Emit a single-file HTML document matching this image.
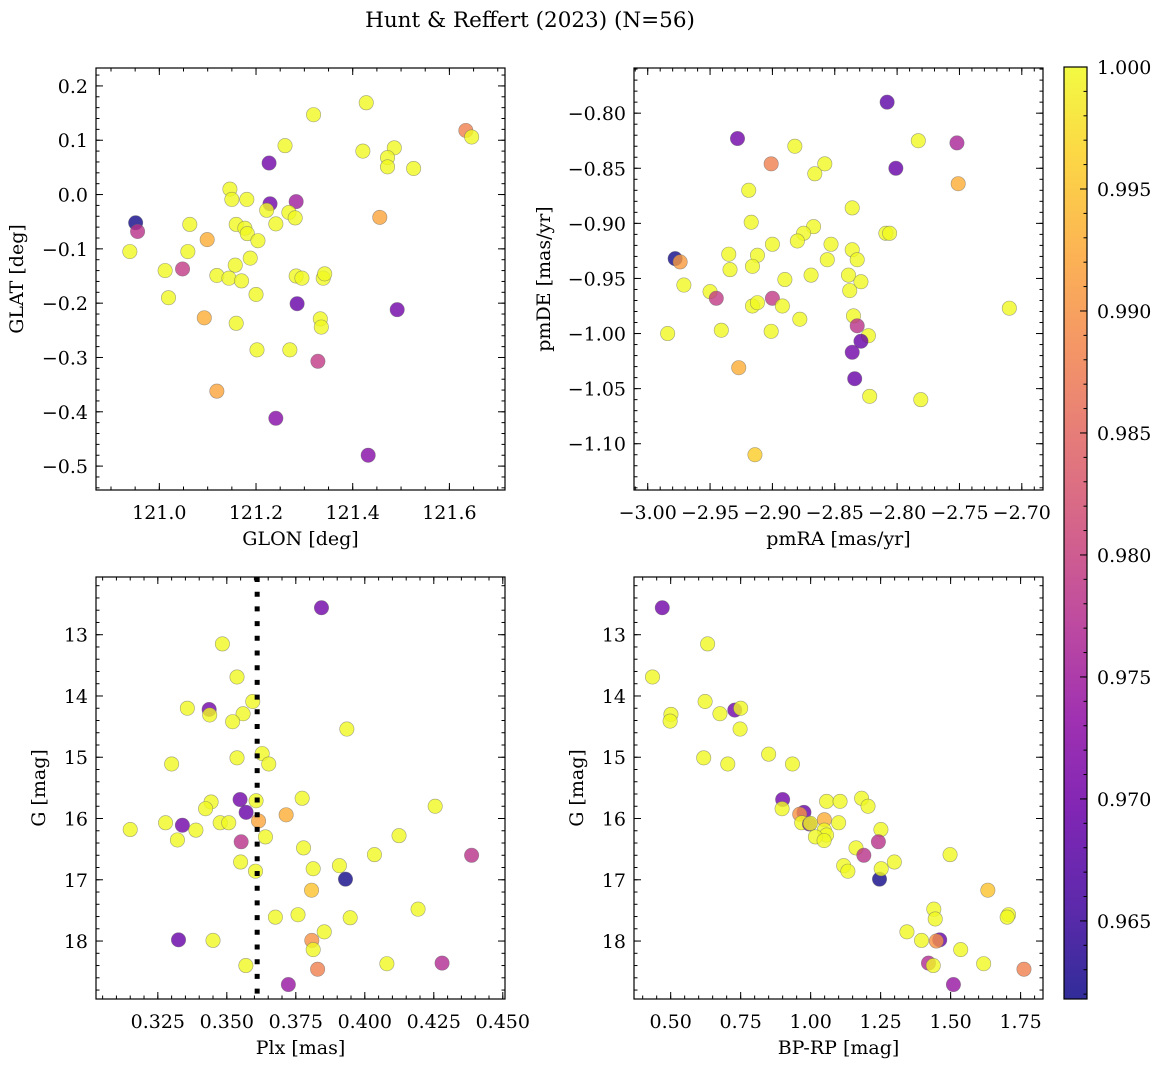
<!DOCTYPE html>
<html><head><meta charset="utf-8">
<style>
html,body{margin:0;padding:0;background:#fff;}
svg text{font-family:"DejaVu Serif","Liberation Serif",serif;fill:#000;}
</style></head>
<body>
<svg id="fig" width="1161" height="1067" viewBox="0 0 1161 1067" xmlns="http://www.w3.org/2000/svg">
<defs>
<linearGradient id="cbgrad" x1="0" y1="1" x2="0" y2="0">
<stop offset="0" stop-color="#0d0887"/><stop offset="0.1" stop-color="#41049d"/><stop offset="0.2" stop-color="#6a00a8"/><stop offset="0.3" stop-color="#8f0da4"/><stop offset="0.4" stop-color="#b12a90"/><stop offset="0.5" stop-color="#cc4778"/><stop offset="0.6" stop-color="#e16462"/><stop offset="0.7" stop-color="#f2844b"/><stop offset="0.8" stop-color="#fca636"/><stop offset="0.9" stop-color="#fcce25"/><stop offset="1" stop-color="#f0f921"/>
</linearGradient>
</defs>
<text x="530" y="27" font-size="21.5" text-anchor="middle">Hunt &amp; Reffert (2023) (N=56)</text>
</svg>
<script>
// ---- Data ----
const glon=[121.428,121.319,121.634,121.646,121.260,121.227,121.421,121.486,121.472,121.472,121.526,121.146,121.150,121.181,121.229,121.283,121.222,121.268,121.281,121.456,120.951,120.955,121.063,121.159,121.177,121.182,121.241,121.204,121.099,120.939,121.059,121.188,121.157,121.012,121.048,121.119,121.144,121.170,121.283,121.295,121.339,121.342,121.200,121.019,121.285,121.492,121.093,121.159,121.333,121.335,121.202,121.270,121.328,121.119,121.241,121.432];
const glat=[0.169,0.147,0.118,0.106,0.090,0.058,0.080,0.086,0.068,0.051,0.048,0.010,-0.009,-0.009,-0.017,-0.013,-0.029,-0.033,-0.043,-0.042,-0.052,-0.068,-0.055,-0.055,-0.062,-0.072,-0.054,-0.085,-0.083,-0.105,-0.105,-0.117,-0.130,-0.140,-0.137,-0.149,-0.154,-0.159,-0.150,-0.154,-0.154,-0.146,-0.184,-0.190,-0.201,-0.212,-0.227,-0.237,-0.229,-0.244,-0.286,-0.286,-0.307,-0.362,-0.412,-0.480];
const probA=[1,1,0.988,1,1,0.970,1,1,1,1,1,1,1,1,0.970,0.975,1,1,1,0.992,0.962,0.978,1,1,1,1,1,1,0.993,1,1,1,1,1,0.979,1,1,1,1,1,1,1,1,1,0.969,0.970,0.993,1,1,1,1,1,0.979,0.992,0.972,0.972];

const pmra=[-2.808,-2.928,-2.882,-2.783,-2.752,-2.901,-2.858,-2.866,-2.801,-2.751,-2.919,-2.836,-2.917,-2.867,-2.875,-2.880,-2.900,-2.853,-2.809,-2.806,-2.935,-2.912,-2.836,-2.978,-2.974,-2.856,-2.832,-2.934,-2.916,-2.869,-2.839,-2.890,-2.829,-2.971,-2.950,-2.838,-2.945,-2.900,-2.916,-2.912,-2.892,-2.710,-2.878,-2.835,-2.832,-2.984,-2.941,-2.901,-2.823,-2.829,-2.836,-2.927,-2.834,-2.822,-2.781,-2.914];
const pmde=[-0.790,-0.823,-0.830,-0.825,-0.827,-0.846,-0.846,-0.855,-0.850,-0.864,-0.870,-0.886,-0.899,-0.903,-0.909,-0.916,-0.919,-0.919,-0.909,-0.909,-0.928,-0.929,-0.924,-0.932,-0.935,-0.933,-0.933,-0.942,-0.939,-0.947,-0.947,-0.951,-0.953,-0.956,-0.962,-0.961,-0.968,-0.968,-0.975,-0.972,-0.975,-0.977,-0.987,-0.984,-0.993,-1.000,-0.997,-0.998,-1.002,-1.007,-1.017,-1.031,-1.041,-1.057,-1.060,-1.110];
const probB=[0.968,0.970,1,1,0.976,0.988,1,1,0.969,0.993,1,1,1,1,1,1,1,1,1,1,1,1,1,0.962,0.991,1,1,1,1,1,1,1,1,1,1,1,0.979,0.979,1,1,1,1,1,1,0.978,1,1,1,1,0.969,0.970,0.993,0.969,1,1,0.996];

const plx=[0.3843,0.3484,0.3537,0.3594,0.3357,0.3436,0.3438,0.3559,0.3521,0.3935,0.3537,0.3628,0.3652,0.3300,0.3773,0.3443,0.3423,0.3548,0.3606,0.3570,0.3715,0.4255,0.3615,0.3278,0.3476,0.3507,0.3339,0.3150,0.3388,0.3640,0.4124,0.3321,0.3552,0.3778,0.4035,0.4387,0.3550,0.3908,0.3813,0.3604,0.3930,0.3807,0.4193,0.3676,0.3758,0.3947,0.3853,0.3325,0.3450,0.3808,0.3813,0.3569,0.3829,0.4080,0.4280,0.3723];
const gmagC=[12.56,13.15,13.69,14.09,14.20,14.22,14.31,14.29,14.42,14.54,15.01,14.94,15.11,15.11,15.67,15.73,15.84,15.69,15.71,15.90,15.94,15.80,16.04,16.07,16.07,16.07,16.11,16.18,16.19,16.30,16.28,16.35,16.38,16.48,16.59,16.60,16.71,16.77,16.82,16.86,16.99,17.17,17.48,17.61,17.57,17.62,17.85,17.98,17.99,17.99,18.14,18.40,18.46,18.37,18.36,18.71];
const probC=[0.970,1,1,1,1,0.970,1,1,1,1,1,1,1,1,1,1,1,0.970,1,0.969,0.993,1,0.992,1,1,1,0.970,1,1,1,1,1,0.978,1,1,0.978,1,1,1,1,0.962,0.995,1,1,1,1,1,0.969,1,0.990,1,1,0.988,1,0.977,0.974];
const plxCut=0.361;

const bprp=[0.470,0.632,0.435,0.623,0.729,0.750,0.676,0.501,0.498,0.748,0.618,0.704,0.850,0.935,0.900,0.898,1.057,1.105,1.182,1.205,0.976,0.961,1.049,0.968,0.996,0.999,1.100,1.049,1.251,1.057,1.017,1.048,1.242,1.162,1.190,1.498,1.118,1.133,1.299,1.246,1.252,1.633,1.440,1.445,1.707,1.702,1.344,1.396,1.461,1.449,1.536,1.421,1.438,1.618,1.762,1.510];
const gmagD=[12.56,13.15,13.69,14.09,14.23,14.20,14.29,14.30,14.41,14.54,15.01,15.11,14.95,15.11,15.69,15.84,15.72,15.72,15.67,15.80,15.90,15.93,16.02,16.07,16.09,16.08,16.07,16.19,16.18,16.27,16.30,16.36,16.38,16.48,16.60,16.59,16.77,16.86,16.71,16.99,16.82,17.17,17.48,17.64,17.57,17.61,17.85,17.99,17.98,18.00,18.14,18.36,18.40,18.37,18.46,18.71];
const probD=[0.970,1,1,1,0.970,1,1,1,1,1,1,1,1,1,0.970,1,1,1,1,1,0.969,0.990,0.993,1,0.970,1,1,1,1,1,1,1,0.978,1,0.978,1,1,1,1,0.962,1,0.995,1,1,1,1,1,1,0.969,0.990,1,0.977,1,1,0.988,0.974];

const cbTicks=[1.000,0.995,0.990,0.985,0.980,0.975,0.970,0.965];
const vmin=0.9618, vmax=1.0;

// ---- Rendering ----
const FS=19;
const NS="http://www.w3.org/2000/svg";
const svg=document.getElementById('fig');
function mk(tag,attrs,parent){const e=document.createElementNS(NS,tag);for(const k in attrs)e.setAttribute(k,attrs[k]);(parent||svg).appendChild(e);return e;}
const stops=[[13,8,135],[65,4,157],[106,0,168],[143,13,164],[177,42,144],[204,71,120],[225,100,98],[242,132,75],[252,166,54],[252,206,37],[240,249,33]];
function plasma(v){let t=(v-vmin)/(vmax-vmin);t=Math.max(0,Math.min(1,t));const p=t*10,i=Math.min(9,Math.floor(p)),f=p-i;const a=stops[i],b=stops[i+1];return 'rgb('+a.map((c,k)=>Math.round(c+(b[k]-c)*f)).join(',')+')';}
function fmt(v,d){const s=Math.abs(v).toFixed(d);return (v<-1e-9?'\u2212':'')+s;}
function ticksRange(lo,hi,step){const out=[];const s=Math.ceil(lo/step-1e-6);for(let k=s;k*step<=hi+1e-9;k++)out.push(+(k*step).toFixed(6));return out;}

function panel(name,box,xd,yd,xt,xdec,xmin,yt,ydec,ymin,yInv,xs,ys,ps,xlabel,ylabel,ylabX){
  const g=mk('g',{});
  
  
  const [L,T,R,B]=box;
  const sx=v=>L+(v-xd[0])/(xd[1]-xd[0])*(R-L);
  const sy=yInv?(v=>T+(v-yd[0])/(yd[1]-yd[0])*(B-T)):(v=>B-(v-yd[0])/(yd[1]-yd[0])*(B-T));
  const [ylo,yhi]=[Math.min(...yd),Math.max(...yd)];
  const pg=mk('g',{},g);
  
  
  for(let i=0;i<xs.length;i++){
    const c=mk('circle',{cx:sx(xs[i]),cy:sy(ys[i]),r:7.2,fill:plasma(ps[i]),'fill-opacity':0.8,stroke:'#666','stroke-opacity':0.6,'stroke-width':0.6},pg);
    
    
  }
  const tk=mk('g',{stroke:'#000','stroke-width':1},g);
  
  
  ticksRange(xd[0],xd[1],xmin).forEach(v=>{const x=sx(v);mk('line',{x1:x,x2:x,y1:B,y2:B-3.5},tk);mk('line',{x1:x,x2:x,y1:T,y2:T+3.5},tk);});
  ticksRange(ylo,yhi,ymin).forEach(v=>{const y=sy(v);mk('line',{x1:L,x2:L+3.5,y1:y,y2:y},tk);mk('line',{x1:R,x2:R-3.5,y1:y,y2:y},tk);});
  xt.forEach(v=>{const x=sx(v);mk('line',{x1:x,x2:x,y1:B,y2:B-7},tk);mk('line',{x1:x,x2:x,y1:T,y2:T+7},tk);
    const t=mk('text',{x:x,y:B+29,'font-size':FS,'text-anchor':'middle'},g);t.textContent=fmt(v,xdec);
    });
  yt.forEach(v=>{const y=sy(v);mk('line',{x1:L,x2:L+7,y1:y,y2:y},tk);mk('line',{x1:R,x2:R-7,y1:y,y2:y},tk);
    const t=mk('text',{x:L-8,y:y+7,'font-size':FS,'text-anchor':'end'},g);t.textContent=fmt(v,ydec);
    });
  mk('rect',{x:L,y:T,width:R-L,height:B-T,fill:'none',stroke:'#000','stroke-width':1.2},g);
  const xl=mk('text',{x:(L+R)/2,y:B+55,'font-size':FS,'text-anchor':'middle'},g);xl.textContent=xlabel;
  
  const cy=(T+B)/2;
  const yl=mk('text',{x:ylabX,y:cy,'font-size':FS,'text-anchor':'middle',transform:'rotate(-90 '+ylabX+' '+cy+')'},g);yl.textContent=ylabel;
  
  return {sx,sy,g};
}

panel('glon-glat-panel',[96,68,505,490],[120.869,121.715],[-0.544,0.233],[121.0,121.2,121.4,121.6],1,0.05,[-0.5,-0.4,-0.3,-0.2,-0.1,0,0.1,0.2],1,0.02,false,glon,glat,probA,'GLON [deg]','GLAT [deg]',23);
panel('pm-panel',[634,68,1043,490],[-3.011,-2.683],[-1.142,-0.759],[-3.00,-2.95,-2.90,-2.85,-2.80,-2.75,-2.70],2,0.01,[-1.10,-1.05,-1.00,-0.95,-0.90,-0.85,-0.80],2,0.01,false,pmra,pmde,probB,'pmRA [mas/yr]','pmDE [mas/yr]',550);
const p3=panel('plx-g-panel',[96,577,505,999],[0.3026,0.4508],[12.058,18.946],[0.325,0.350,0.375,0.400,0.425,0.450],3,0.005,[13,14,15,16,17,18],0,0.2,true,plx,gmagC,probC,'Plx [mas]','G [mag]',45);
const cut=mk('line',{x1:p3.sx(plxCut),x2:p3.sx(plxCut),y1:577,y2:999,stroke:'#000','stroke-width':5,'stroke-dasharray':'5 9.7'},p3.g);


panel('cmd-panel',[634,577,1043,999],[0.369,1.830],[12.058,18.946],[0.50,0.75,1.00,1.25,1.50,1.75],2,0.05,[13,14,15,16,17,18],0,0.2,true,bprp,gmagD,probD,'BP-RP [mag]','G [mag]',583);

const cb=mk('g',{});


const cT=67,cB=999,cL=1064,cR=1087;
mk('rect',{x:cL,y:cT,width:cR-cL,height:cB-cT,fill:'url(#cbgrad)','fill-opacity':0.85},cb);
const csy=v=>cB-(v-vmin)/(vmax-vmin)*(cB-cT);
ticksRange(vmin,vmax,0.001).forEach(v=>{const y=csy(v);mk('line',{x1:cR,x2:cR-3.5,y1:y,y2:y,stroke:'#000'},cb);});
cbTicks.forEach(v=>{const y=csy(v);mk('line',{x1:cR,x2:cR-7,y1:y,y2:y,stroke:'#000'},cb);
  const t=mk('text',{x:1097,y:y+7,'font-size':FS},cb);t.textContent=v.toFixed(3);
  });
mk('rect',{x:cL,y:cT,width:cR-cL,height:cB-cT,fill:'none',stroke:'#000','stroke-width':1.2},cb);
</script>
</body></html>
